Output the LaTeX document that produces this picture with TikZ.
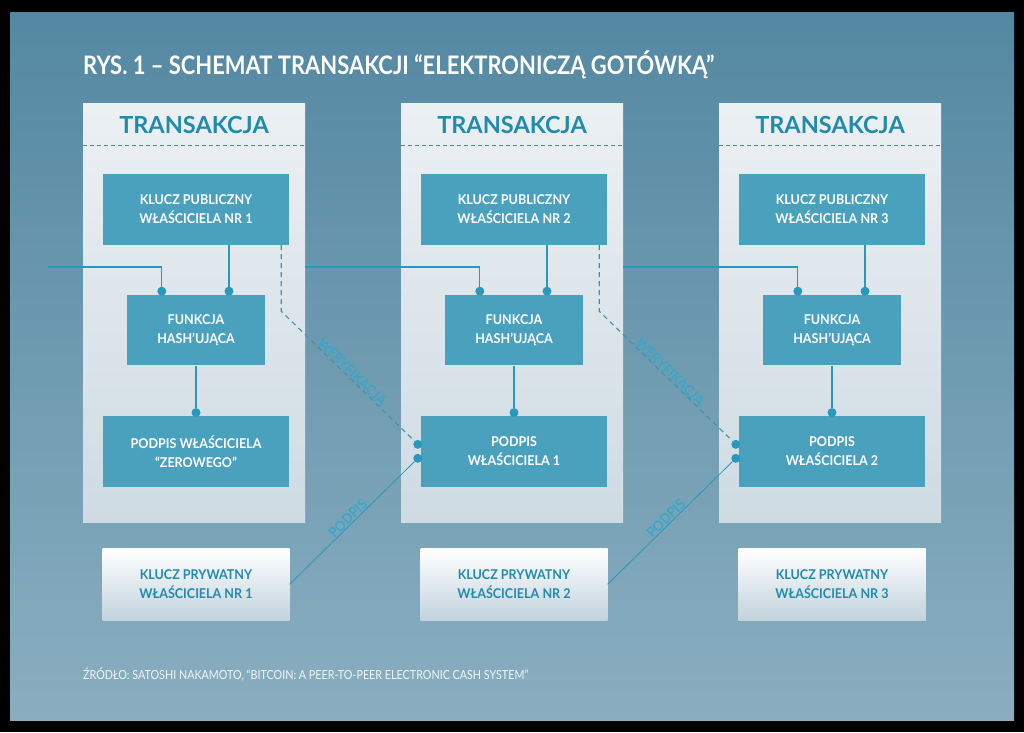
\documentclass[tikz,border=0pt]{standalone}
\usepackage{fontspec}
\setmainfont{Lato}
\newfontfamily\titlefont[FakeStretch=0.86]{Lato}
\newfontfamily\boxfont[FakeStretch=0.93]{Lato}
\usetikzlibrary{positioning,calc}

\definecolor{bgtop}{RGB}{84,136,162}
\definecolor{bgbot}{RGB}{138,174,192}
\definecolor{panelhi}{RGB}{236,240,243}
\definecolor{panello}{RGB}{206,219,227}
\definecolor{boxteal}{RGB}{74,161,190}
\definecolor{inkteal}{RGB}{33,139,171}
\definecolor{lineteal}{RGB}{42,151,188}
\definecolor{privlo}{RGB}{194,211,221}
\definecolor{tagteal}{RGB}{58,166,202}

\begin{document}
\begin{tikzpicture}[
        x=1pt, y=1pt,
        node distance=50pt,
        panel/.style={
            rectangle,
            top color=panelhi,
            bottom color=panello,
            minimum width=222pt,
            minimum height=419pt,
            inner sep=0pt
        },
        keybox/.style={
            rectangle,
            fill=boxteal,
            text=white,
            font=\boxfont\bfseries\fontsize{13.5}{19}\selectfont,
            align=center,
            minimum width=186pt,
            minimum height=71pt,
            inner sep=0pt
        },
        hashbox/.style={
            keybox,
            minimum width=138pt,
            minimum height=70pt
        },
        privbox/.style={
            keybox,
            fill=none,
            top color=white,
            bottom color=privlo,
            text=inkteal,
            minimum width=187pt,
            minimum height=72pt
        },
        link/.style={
            draw=lineteal,
            line width=1.1pt
        },
        check/.style={
            draw=lineteal!70!gray,
            line width=1.1pt,
            dash pattern=on 5pt off 4pt
        },
        joint/.style={
            circle,
            fill=lineteal,
            inner sep=0pt,
            minimum size=9pt
        },
        tag/.style={
            text=tagteal,
            font=\boxfont\bfseries\fontsize{14}{14}\selectfont,
            sloped,
            above,
            inner sep=0.5pt
        }
    ]
    % Background
    \fill[black] (0,0) rectangle (1024,-732);
    \useasboundingbox (0,0) rectangle (1024,-732);
    \shade[top color=bgtop, bottom color=bgbot] (10,-12) rectangle (1014,-720);
    % Title
    \node[anchor=west, inner sep=0pt, text=white,
          font=\titlefont\bfseries\fontsize{25.5}{25.5}\selectfont] (title) at (83,-65)
        {RYS. 1 – SCHEMAT TRANSAKCJI “ELEKTRONICZĄ GOTÓWKĄ”};
    % Transactions
    \foreach \i/\sigtext in {1/{PODPIS WŁAŚCICIELA\\“ZEROWEGO”},
                             2/{PODPIS\\WŁAŚCICIELA 1},
                             3/{PODPIS\\WŁAŚCICIELA 2}}{
        \pgfmathsetmacro\dx{318*(\i-1)}
        \node[panel] (col\i) at (194+\dx,-312.5) {};
        \node[text=inkteal, font=\bfseries\fontsize{23.5}{23.5}\selectfont]
            (head\i) at ($(col\i.north)+(0,-22)$) {TRANSAKCJA};
        \draw[gray!60!inkteal, line width=0.9pt, dash pattern=on 4pt off 3pt]
            ($(col\i.north west)+(0,-43)$) -- ($(col\i.north east)+(0,-43)$);
        \node[keybox] (pub\i) at (196+\dx,-209.5) {KLUCZ PUBLICZNY\\WŁAŚCICIELA NR \i};
        \node[hashbox, below=of pub\i] (hash\i) {FUNKCJA\\HASH’UJĄCA};
        \node[keybox, below=of hash\i] (sig\i) {\sigtext};
        \node[privbox, below=61pt of sig\i] (priv\i) {KLUCZ PRYWATNY\\WŁAŚCICIELA NR \i};
        % Hash inputs
        \node[joint] (inA\i) at ($(hash\i.north west)+(35,4)$) {};
        \node[joint] (inB\i) at ($(hash\i.north)+(33,4)$) {};
        \draw[link] (pub\i.south -| inB\i) -- (inB\i);
        \node[joint] (inS\i) at ($(sig\i.north)+(0,3)$) {};
        \draw[link] (hash\i.south) -- (inS\i);
    }
    % Inputs into the next signature
    \foreach \i in {2,3}{
        \node[joint] (ver\i) at ($(sig\i.west)+(-3,7)$) {};
        \node[joint] (sgn\i) at ($(sig\i.west)+(-3,-7)$) {};
    }
    % Chain line into the hash functions
    \coordinate (feed1) at (48,-267);
    \coordinate (feed2) at (col1.east |- feed1);
    \coordinate (feed3) at (col2.east |- feed1);
    \foreach \i in {1,2,3}{
        \draw[link] (feed\i) -| (inA\i);
    }
    % Verification and signing
    \draw[check] ($(pub1.south east)+(-8,0)$) -- ++(0,-66)
        -- node[tag, pos=0.5] {WERYFIKACJA} (ver2);
    \draw[check] ($(pub2.south east)+(-8,0)$) -- ++(0,-66)
        -- node[tag, pos=0.5] {WERYFIKACJA} (ver3);
    \draw[link, line width=0.8pt] (priv1.east) -- node[tag, pos=0.5] {PODPIS} (sgn2);
    \draw[link, line width=0.8pt] (priv2.east) -- node[tag, pos=0.5] {PODPIS} (sgn3);
    % Source
    \node[anchor=west, inner sep=0pt, text=white!92!bgtop,
          font=\titlefont\fontsize{12.5}{12.5}\selectfont] (source) at (83,-675)
        {ŹRÓDŁO: SATOSHI NAKAMOTO, “BITCOIN: A PEER-TO-PEER ELECTRONIC CASH SYSTEM”};
\end{tikzpicture}
\end{document}
